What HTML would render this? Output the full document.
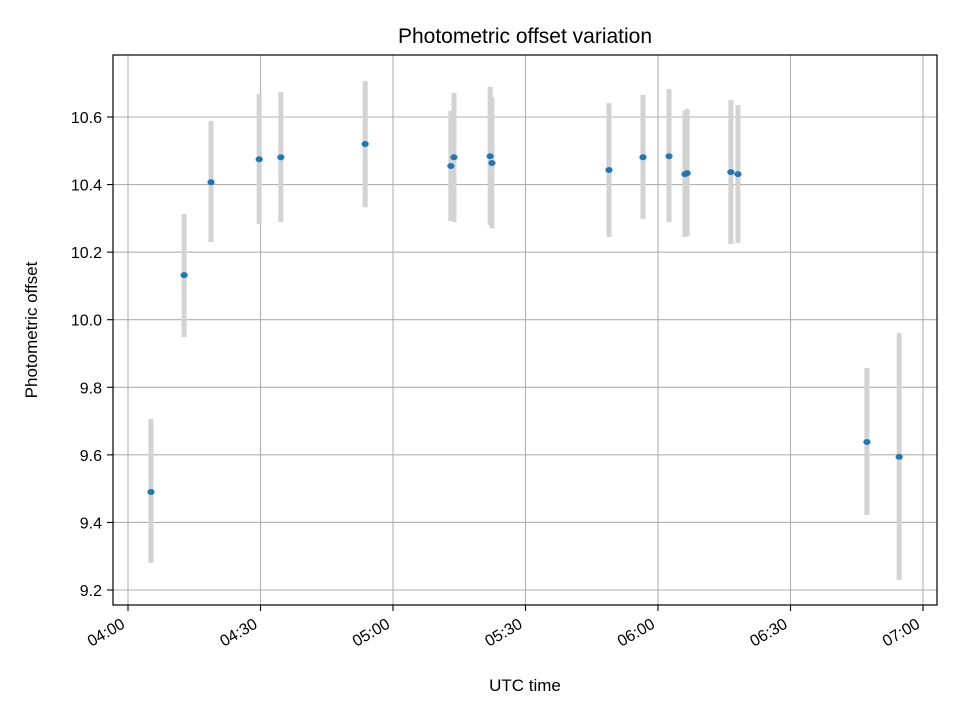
<!DOCTYPE html>
<html><head><meta charset="utf-8"><style>
body{margin:0;background:#fff}
svg text{font-family:"Liberation Sans","DejaVu Sans",sans-serif;fill:#000}
</style></head><body>
<svg id="chart" width="960" height="720" viewBox="0 0 960 720">
<rect width="960" height="720" fill="#fff"/>
<g id="grid"></g>
<g id="bars"></g>
<g id="pts"></g>
<rect x="113" y="55" width="824" height="550" fill="none" stroke="#000" stroke-width="1.2"/>
<g id="axes"></g>
<text x="525" y="43" font-size="21" text-anchor="middle">Photometric offset variation</text>
<text x="525" y="691" font-size="17" text-anchor="middle">UTC time</text>
<text x="37" y="330" font-size="17" text-anchor="middle" transform="rotate(-90 37 330)">Photometric offset</text>
</svg>
<script>
// minutes after 04:00
const times=[5.2,12.7,18.8,29.7,34.6,53.7,73.1,73.8,82,82.4,108.9,116.6,122.5,126.1,126.6,136.5,138.1,167.3,174.6];
const values=[9.49,10.132,10.407,10.475,10.481,10.52,10.455,10.481,10.484,10.464,10.443,10.481,10.484,10.431,10.434,10.437,10.431,9.638,9.594];
const errLow=[9.28,9.949,10.23,10.283,10.289,10.333,10.292,10.289,10.28,10.27,10.245,10.298,10.289,10.245,10.248,10.224,10.227,9.422,9.23];
const errHigh=[9.706,10.313,10.588,10.668,10.674,10.706,10.618,10.671,10.689,10.659,10.641,10.665,10.683,10.618,10.624,10.65,10.635,9.857,9.961];
const xTicks=[0,30,60,90,120,150,180];
const xTickLabels=["04:00","04:30","05:00","05:30","06:00","06:30","07:00"];
const yTicks=[9.2,9.4,9.6,9.8,10.0,10.2,10.4,10.6];
const yTickLabels=["9.2","9.4","9.6","9.8","10.0","10.2","10.4","10.6"];
const NS="http://www.w3.org/2000/svg";
const X=m=>128+m*(795/180);
const Y=v=>590-(v-9.2)*(473/1.4);
function mk(tag,attrs,parent){const e=document.createElementNS(NS,tag);for(const k in attrs)e.setAttribute(k,attrs[k]);document.getElementById(parent).appendChild(e);return e;}
xTicks.forEach((t,i)=>{
  const g=mk("line",{x1:X(t),x2:X(t),y1:55,y2:605,stroke:"#b0b0b0","stroke-width":1.1},"grid");
  
  
  const tk=mk("line",{x1:X(t),x2:X(t),y1:605,y2:611,stroke:"#000","stroke-width":1.1},"axes");
  
  
  const ax=X(t)-2, ay=627;
  const tx=mk("text",{x:ax,y:ay,"font-size":16,"text-anchor":"end",transform:`rotate(-30 ${ax} ${ay})`},"axes");
  tx.textContent=xTickLabels[i];
  
  
});
yTicks.forEach((t,i)=>{
  const g=mk("line",{x1:113,x2:937,y1:Y(t),y2:Y(t),stroke:"#b0b0b0","stroke-width":1.1},"grid");
  
  
  const tk=mk("line",{x1:107,x2:113,y1:Y(t),y2:Y(t),stroke:"#000","stroke-width":1.1},"axes");
  
  
  const tx=mk("text",{x:102,y:Y(t)+6,"font-size":16,"text-anchor":"end"},"axes");
  tx.textContent=yTickLabels[i];
  
  
});
times.forEach((t,i)=>{
  const b=mk("line",{x1:X(t),x2:X(t),y1:Y(errHigh[i]),y2:Y(errLow[i]),stroke:"#d3d3d3","stroke-width":5},"bars");
  
  
});
times.forEach((t,i)=>{
  const p=mk("ellipse",{cx:X(t),cy:Y(values[i]),rx:3.6,ry:3,fill:"#1f77b4"},"pts");
  
  
});
</script>
</body></html>
